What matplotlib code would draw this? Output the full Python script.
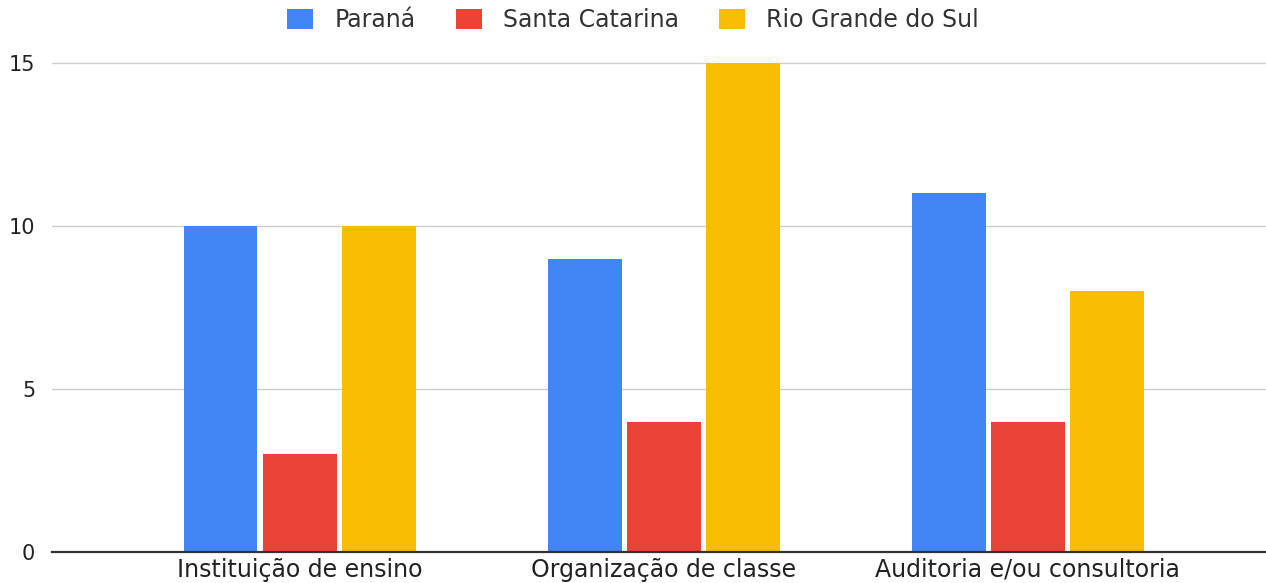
import matplotlib
matplotlib.use("Agg")
import matplotlib.pyplot as plt
import matplotlib.patches as mpatches
import numpy as np

categories = ["Instituição de ensino", "Organização de classe", "Auditoria e/ou consultoria"]
series_names = ["Paraná", "Santa Catarina", "Rio Grande do Sul"]
parana = [10, 9, 11]
santa_catarina = [3, 4, 4]
rio_grande = [10, 15, 8]
colors = ["#4285F4", "#EA4335", "#FBBC04"]
yticks = [0, 5, 10, 15]

plt.rcParams["font.family"] = ["DejaVu Sans"]

fig = plt.figure(figsize=(12.66, 5.83), dpi=100)
ax = fig.add_axes([52 / 1266, 31 / 583, 1 - 52 / 1266, (552 - 40) / 583])

x = np.arange(len(categories))
w = 0.203
step = 0.218
for i, (vals, c) in enumerate(zip([parana, santa_catarina, rio_grande], colors)):
    ax.bar(x + (i - 1) * step, vals, width=w, color=c, zorder=3)

ax.set_xlim(-0.681, 2.654)
ax.set_ylim(0, 512 / 32.6)
ax.set_yticks(yticks)
ax.set_xticks(x)
ax.set_xticklabels(categories, fontsize=17, color="#222222")
ax.tick_params(axis="y", length=0, labelsize=15, labelcolor="#222222", pad=12)
ax.tick_params(axis="x", length=0, pad=4)
ax.grid(axis="y", color="#cccccc", linewidth=1, zorder=0)
for s in ["top", "right", "left"]:
    ax.spines[s].set_visible(False)
ax.spines["bottom"].set_color("#333333")
ax.spines["bottom"].set_linewidth(1.6)
ax.spines["bottom"].set_zorder(4)

handles = [mpatches.Patch(facecolor=c, label=n) for c, n in zip(colors, series_names)]
fig.legend(handles=handles, loc="center", bbox_to_anchor=(0.5, 1 - 20 / 583), ncol=3,
           frameon=False, fontsize=17, handlelength=1.1, handleheight=0.95,
           handletextpad=0.9, columnspacing=1.7, labelcolor="#333333")

fig.savefig("out.png", dpi=100)
